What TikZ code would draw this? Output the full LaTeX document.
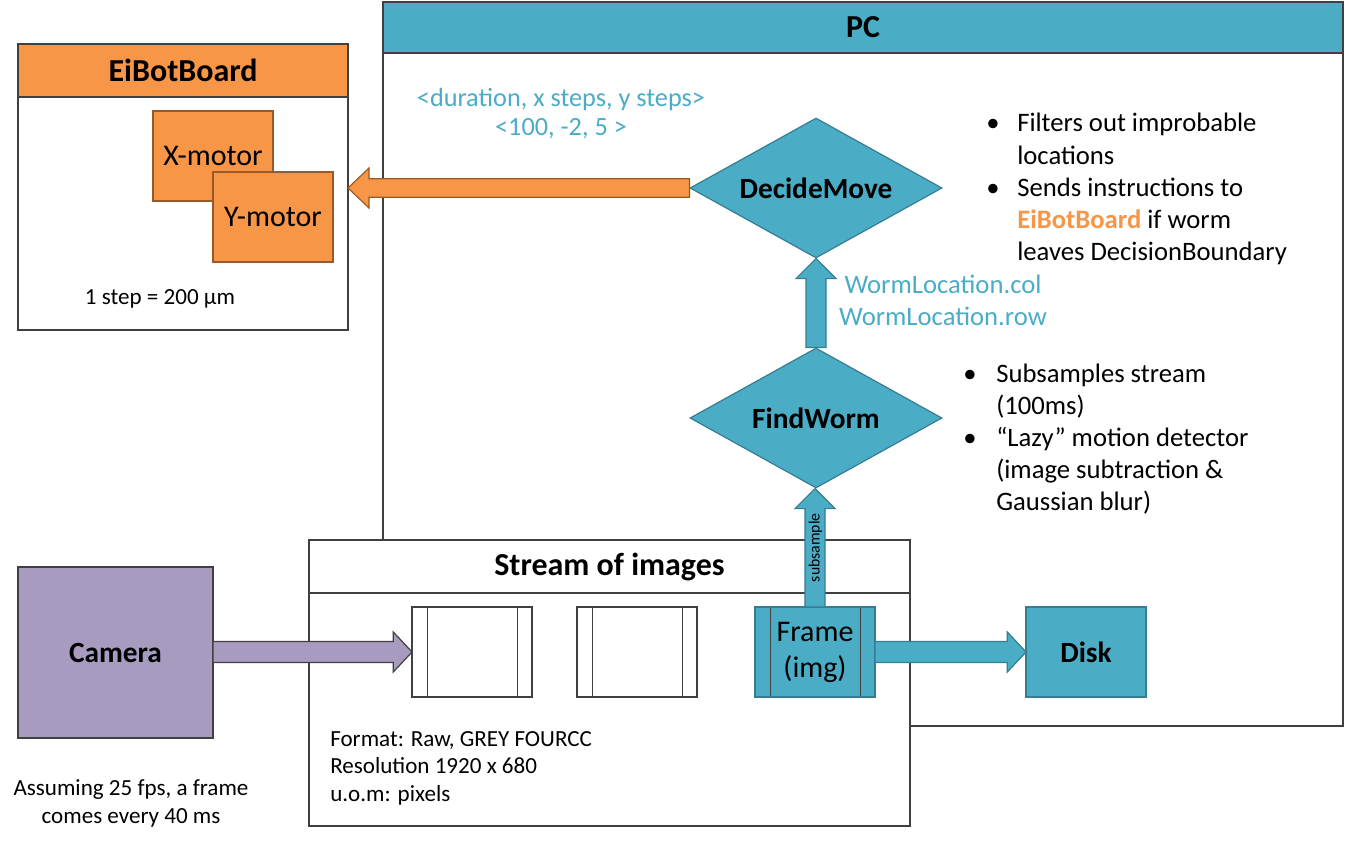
\documentclass[tikz,border=0pt]{standalone}
\usepackage{fontspec}
\setmainfont{Carlito}
\usetikzlibrary{shapes.geometric,calc}
\definecolor{teal1}{HTML}{4BACC6}
\definecolor{tealline}{HTML}{357D91}
\definecolor{orange1}{HTML}{F79646}
\definecolor{orangeline}{HTML}{9A5A28}
\definecolor{purple1}{HTML}{A89BC0}
\definecolor{lineg}{HTML}{404040}
\tikzset{
  box/.style={draw=lineg, line width=0.9pt, fill=white, inner sep=0pt, outer sep=0pt, anchor=north west},
  hdrfont/.style={font=\fontsize{24}{28}\selectfont\bfseries},
  titlefont/.style={font=\fontsize{22}{26}\selectfont\bfseries},
  motorfont/.style={font=\fontsize{22.5}{27}\selectfont},
  bigfont/.style={font=\fontsize{20}{24}\selectfont, inner sep=0pt},
  smallfont/.style={font=\fontsize{17.3}{20}\selectfont, inner sep=0pt},
  durfont/.style={font=\fontsize{19.7}{22}\selectfont, inner sep=0pt, text=teal1},
  imgframe/.style={box, minimum width=90pt, minimum height=67.5pt,
    path picture={
      \draw[lineg, line width=0.6pt] ([xshift=11.25pt]path picture bounding box.north west) -- ([xshift=11.25pt]path picture bounding box.south west);
      \draw[lineg, line width=0.6pt] ([xshift=-11.25pt]path picture bounding box.north east) -- ([xshift=-11.25pt]path picture bounding box.south east);
    }},
  dia/.style={diamond, shape aspect=1.8, draw=tealline, fill=teal1, line width=0.9pt,
    minimum width=189pt, minimum height=105pt, inner sep=0pt, titlefont},
  tealarrow/.style={fill=teal1, draw=tealline, line width=0.9pt},
  orangearrow/.style={fill=orange1, draw=orangeline, line width=0.9pt},
  purplearrow/.style={fill=purple1, draw=lineg, line width=0.9pt},
}
\begin{document}
\begin{tikzpicture}[x=0.75pt,y=-0.75pt]
\useasboundingbox (0,0) rectangle (1346,842);

% PC container
\node[box, minimum width=720pt, minimum height=543pt] (pc) at (383,2) {};
\node[box, fill=teal1, minimum width=720pt, minimum height=38.25pt, hdrfont] (pchdr) at (383,2) {PC};

% EiBotBoard
\node[box, minimum width=247.5pt, minimum height=214.5pt] (eb) at (18,44) {};
\node[box, fill=orange1, minimum width=247.5pt, minimum height=39.75pt, hdrfont] (ebhdr) at (18,44) {EiBotBoard};
\node[box, fill=orange1, draw=orangeline, minimum width=90pt, minimum height=67.5pt, motorfont] (xm) at (153,111) {X-motor};
\node[box, fill=orange1, draw=orangeline, minimum width=90pt, minimum height=67.5pt, motorfont] (ym) at (213,172) {Y-motor};
\node[smallfont, anchor=base] (stepnote) at (160,304) {1 step = 200 µm};

% Stream of images
\node[box, minimum width=450.75pt, minimum height=214.5pt] (st) at (309,540) {};
\node[box, minimum width=450.75pt, minimum height=39.75pt, hdrfont] (sthdr) at (309,540) {Stream of images};
\node[imgframe] (f1) at (412,607) {};
\node[imgframe] (f2) at (577,607) {};
\node[imgframe, fill=teal1, draw=tealline, align=center, font=\fontsize{22.5}{27}\selectfont] (f3) at (755,607) {Frame\\(img)};
\node[smallfont, anchor=base west] (fmt1) at (330,746) {Format: Raw, GREY FOURCC};
\node[smallfont, anchor=base west] (fmt2) at (330,773) {Resolution 1920 x 680};
\node[smallfont, anchor=base west] (fmt3) at (330,801) {u.o.m: pixels};

% Disk, Camera
\node[box, fill=teal1, draw=tealline, minimum width=90pt, minimum height=67.5pt, titlefont] (disk) at (1026,607) {Disk};
\node[box, fill=purple1, draw=lineg, minimum width=146.25pt, minimum height=128.25pt, titlefont] (cam) at (18,567) {Camera};
\node[smallfont, anchor=base] (cam1) at (131,795) {Assuming 25 fps, a frame};
\node[smallfont, anchor=base] (cam2) at (131,823) {comes every 40 ms};

% Diamonds
\node[dia] (dm) at (816,188) {DecideMove};
\node[dia] (fw) at (816,418) {FindWorm};

% Block arrows
\draw[orangearrow] let \p1=(dm.west), \p2=(eb.east) in
  (\x1,\y1+7pt) -- (\x2+15.75pt,\y1+7pt) -- (\x2+15.75pt,\y1+15pt) -- (\x2,\y1)
  -- (\x2+15.75pt,\y1-15pt) -- (\x2+15.75pt,\y1-7pt) -- (\x1,\y1-7pt) -- cycle;
\draw[tealarrow] let \p1=(fw.north), \p2=(dm.south) in
  (\x1-7.5pt,\y1) -- (\x1-7.5pt,\y2-15pt) -- (\x1-15pt,\y2-15pt) -- (\x1,\y2)
  -- (\x1+15pt,\y2-15pt) -- (\x1+7.5pt,\y2-15pt) -- (\x1+7.5pt,\y1) -- cycle;
\draw[tealarrow] let \p1=(f3.north), \p2=(fw.south) in
  (\x1-7.5pt,\y1) -- (\x1-7.5pt,\y2-15pt) -- (\x1-15pt,\y2-15pt) -- (\x1,\y2)
  -- (\x1+15pt,\y2-15pt) -- (\x1+7.5pt,\y2-15pt) -- (\x1+7.5pt,\y1) -- cycle;
\draw[purplearrow] let \p1=(cam.east), \p2=(f1.west) in
  (\x1,\y2+7.9pt) -- (\x2-14pt,\y2+7.9pt) -- (\x2-14pt,\y2+15pt) -- (\x2,\y2)
  -- (\x2-14pt,\y2-15pt) -- (\x2-14pt,\y2-7.9pt) -- (\x1,\y2-7.9pt) -- cycle;
\draw[tealarrow] let \p1=(f3.east), \p2=(disk.west) in
  (\x1,\y2+7.9pt) -- (\x2-14pt,\y2+7.9pt) -- (\x2-14pt,\y2+15pt) -- (\x2,\y2)
  -- (\x2-14pt,\y2-15pt) -- (\x2-14pt,\y2-7.9pt) -- (\x1,\y2-7.9pt) -- cycle;
\node[font=\fontsize{11.8}{12}\selectfont, rotate=90, inner sep=0pt] (sub) at ($(f3.north)!0.5!(fw.south)$) {subsample};

% Labels on PC side
\node[durfont, anchor=base] (dur1) at (561,107) {<duration, x steps, y steps>};
\node[durfont, anchor=base] (dur2) at (561,136) {<100, -2, 5 >};
\node[bigfont, anchor=base, text=teal1] (wl1) at (943,293) {WormLocation.col};
\node[bigfont, anchor=base, text=teal1] (wl2) at (943,325) {WormLocation.row};

% Bullet list 1
\node[bigfont, anchor=base] (b1) at (993,132) {\textbullet};
\node[bigfont, anchor=base west] (t1a) at (1017,132) {Filters out improbable};
\node[bigfont, anchor=base west] (t1b) at (1017,164) {locations};
\node[bigfont, anchor=base] (b2) at (993,196) {\textbullet};
\node[bigfont, anchor=base west] (t2a) at (1017,196) {Sends instructions to};
\node[bigfont, anchor=base west] (t2b) at (1017,228) {{\color{orange1}\bfseries EiBotBoard} if worm};
\node[bigfont, anchor=base west] (t2c) at (1017,260) {leaves DecisionBoundary};

% Bullet list 2
\node[bigfont, anchor=base] (b3) at (970,382) {\textbullet};
\node[bigfont, anchor=base west] (t3a) at (996,382) {Subsamples stream};
\node[bigfont, anchor=base west] (t3b) at (996,414) {(100ms)};
\node[bigfont, anchor=base] (b4) at (970,446) {\textbullet};
\node[bigfont, anchor=base west] (t4a) at (996,446) {“Lazy” motion detector};
\node[bigfont, anchor=base west] (t4b) at (996,478) {(image subtraction \&};
\node[bigfont, anchor=base west] (t4c) at (996,510) {Gaussian blur)};
\end{tikzpicture}
\end{document}
